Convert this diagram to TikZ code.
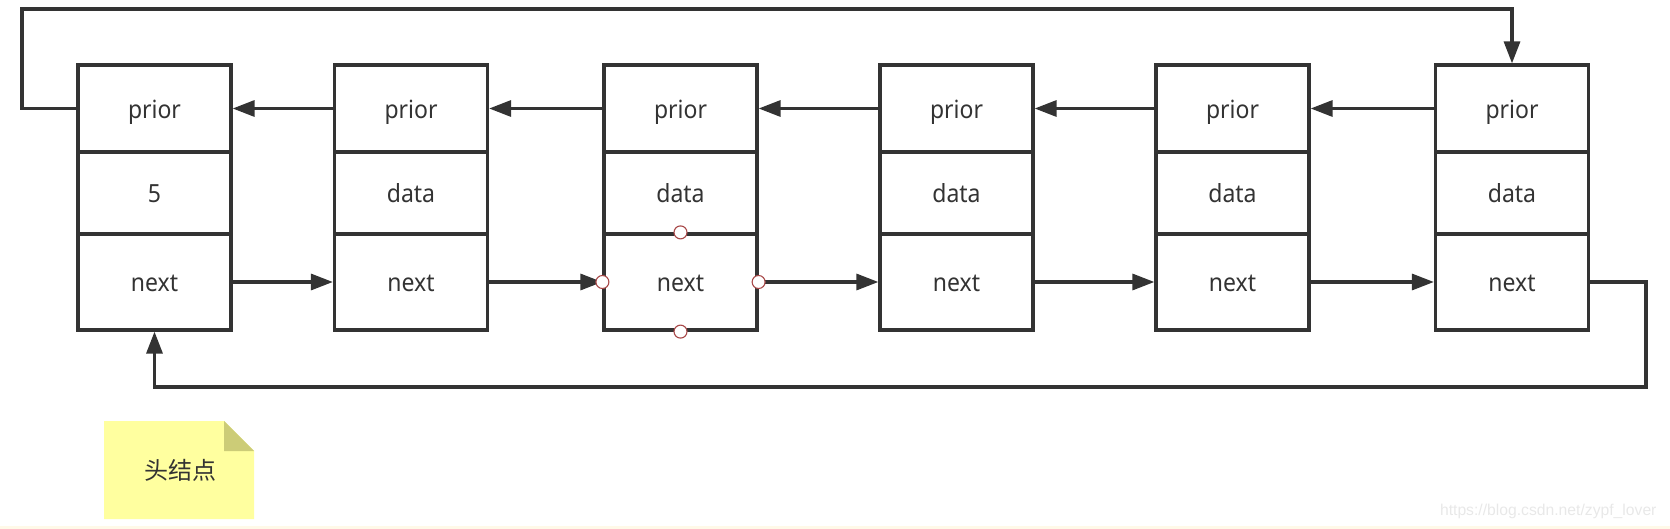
\documentclass[tikz,border=0pt]{standalone}
\usepackage{fontspec}
\setmainfont{Noto Sans}
\newfontfamily\cellfont[FakeStretch=0.92]{Noto Sans}
\newfontfamily\cjkfont{Noto Sans CJK SC}
\newfontfamily\wmfont{Liberation Sans}
\usetikzlibrary{arrows.meta}
\definecolor{ink}{HTML}{333333}
\definecolor{notefill}{HTML}{FFFF9F}
\definecolor{notefold}{HTML}{CCCC77}
\definecolor{handle}{HTML}{A84848}
\definecolor{band}{HTML}{FFF9E8}
\begin{document}
\begin{tikzpicture}[x=1pt,y=-1pt,
  cell/.style={draw=ink,line width=3.2pt,minimum width=153pt,inner sep=0pt,
    text=ink,font=\cellfont\fontsize{25}{28}\selectfont,text height=22pt,text depth=2.6pt},
  ptr/.style={draw=ink,line width=3.2pt,-{Triangle[length=22pt,width=16pt]}},
  handlept/.style={circle,draw=handle,fill=white,line width=1.1pt,minimum size=13pt,inner sep=0pt}]
\useasboundingbox (0,0) rectangle (1670,529);
\fill[band] (0,526) rectangle (1670,529);
% boxes
\foreach \i/\x/\d in {1/154.5/5,2/411/data,3/680.5/data,4/956.5/data,5/1232.5/data,6/1512/data}{
  \node[cell,minimum height=87pt] (p\i) at (\x,108.5) {prior};
  \node[cell,minimum height=82pt] (d\i) at (\x,193) {\d};
  \node[cell,minimum height=96pt] (n\i) at (\x,282) {next};
}
% pointers
\foreach \a/\b in {1/2,2/3,3/4,4/5,5/6}{
  \draw[ptr] (n\a.east) -- (n\b.west);
  \draw[ptr] (p\b.west) -- (p\a.east);
}
% loops
\coordinate (tl) at (22,9);
\coordinate (br) at (1646,387);
\draw[ptr] (p1.west) -| (tl) -| (p6.north);
\draw[ptr] (n6.east) -| (br) -| (n1.south);
% selection handles
\foreach \s in {north,south,east,west}{
  \node[handlept] (h\s) at (n3.\s) {};
}
% note
\fill[notefill] (104,421) -- (224,421) -- (254,451) -- (254,519) -- (104,519) -- cycle;
\fill[notefold] (224,421) -- (224,451) -- (254,451) -- cycle;
\node[text=ink,font=\cjkfont\fontsize{24}{27}\selectfont] (note) at (180,470) {头结点};
% watermark
\node[text=black!9,font=\wmfont\fontsize{15.7}{18}\selectfont,anchor=east] (wm) at (1660,511) {https://blog.csdn.net/zypf\_lover};
\end{tikzpicture}
\end{document}
